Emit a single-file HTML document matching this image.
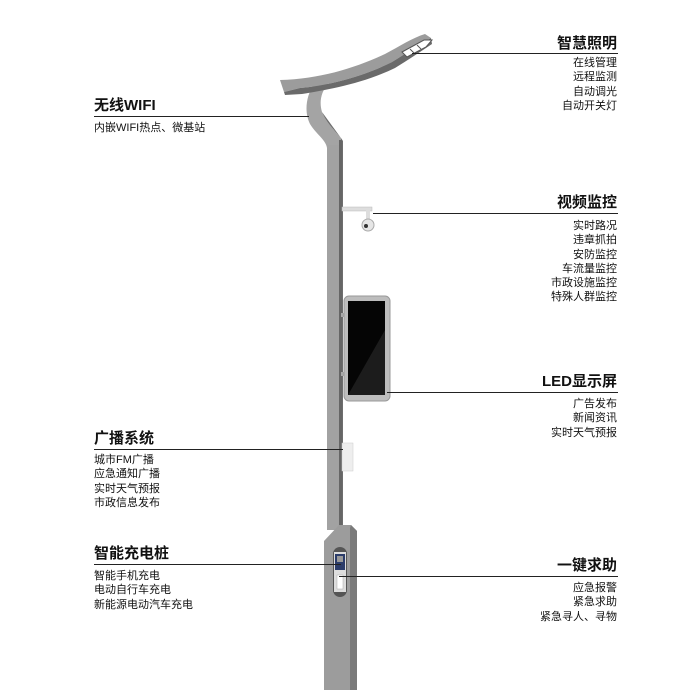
<!DOCTYPE html>
<html><head><meta charset="utf-8"><style>
body{margin:0;width:700px;height:700px;background:#fff;position:relative;overflow:hidden;font-family:"Liberation Sans","Noto Sans CJK SC",sans-serif;color:#111}
.t{position:absolute;font-weight:bold;font-size:15px;line-height:16px;white-space:nowrap}
.i{position:absolute;font-size:11px;line-height:14.3px;white-space:nowrap}
.r{right:83px;text-align:right}
.l{left:94px}
.ln{position:absolute;height:1px;background:#222}
</style></head><body>
<svg width="700" height="700" style="position:absolute;left:0;top:0">
<!-- arm -->
<path d="M314,84 C306,96 304,112 310,124 C316,134 326,140 327,148 L341,148 L341,138 C334,130 326,122 322,112 C319,102 321,92 328,84 Z" fill="#a4a4a4"/>
<path d="M322,112 C326,122 334,130 341,138 L343,141 L343,530 L341,530 L341,138" fill="#6e6e6e"/>
<rect x="327" y="145" width="14" height="385" fill="#a2a2a2"/>
<rect x="339" y="140" width="3" height="390" fill="#666"/>
<!-- lamp head -->
<path d="M280,80 C320,79 355,68 385,54 C400,46 412,38 425,34 L431,38 C418,45 405,54 392,62 C360,78 325,86 300,88 L284,92 Z" fill="#9c9c9c"/>
<path d="M284,92 L300,88 C325,86 360,78 392,62 C405,54 418,45 431,38 L432,44 C420,52 408,60 395,68 C362,84 326,90 302,94 L285,95 Z" fill="#6a6a6a"/>
<path d="M402,52 L424,40 L432,40 L426,47 L407,57 Z" fill="#fff" stroke="#555" stroke-width="1"/>
<line x1="410" y1="49" x2="414" y2="53" stroke="#555"/>
<line x1="417" y1="45" x2="421" y2="49" stroke="#555"/>
<!-- camera -->
<rect x="342" y="207" width="30" height="4" fill="#ddd" stroke="#bbb" stroke-width=".5"/>
<rect x="366" y="209" width="4" height="10" fill="#ddd"/>
<circle cx="368" cy="225" r="6" fill="#e6e6e6" stroke="#aaa"/>
<circle cx="366" cy="226" r="2" fill="#333"/>
<!-- LED panel -->
<rect x="341" y="313" width="5" height="4" fill="#aaa"/>
<rect x="341" y="372" width="5" height="4" fill="#aaa"/>
<rect x="344" y="296" width="46" height="105" rx="5" fill="#bdbdbd" stroke="#999"/>
<rect x="348" y="301" width="37" height="94" fill="#050505"/>
<path d="M348,395 L385,330 L385,395 Z" fill="#1c1c1c"/>
<!-- speaker -->
<rect x="342" y="443" width="11" height="28" fill="#eee" stroke="#ccc" stroke-width=".5"/>
<!-- base -->
<path d="M324,541 L339,525 L351,525 L357,531 L357,690 L324,690 Z" fill="#9c9c9c"/>
<path d="M351,525 L357,531 L357,690 L350,690 L350,528 Z" fill="#7a7a7a"/>
<rect x="333" y="547" width="14" height="50" rx="7" fill="#555"/>
<rect x="334" y="552" width="12" height="40" fill="#ddd"/>
<rect x="335" y="554" width="10" height="16" fill="#2b3c6a"/>
<rect x="337" y="556" width="6" height="6" fill="#999"/>
<rect x="337" y="575" width="6" height="14" fill="#fff" stroke="#aaa" stroke-width=".5"/>
</svg>
<div class="ln" style="left:412px;top:53px;width:206px"></div>
<div class="ln" style="left:94px;top:116px;width:215px"></div>
<div class="ln" style="left:373px;top:213px;width:245px"></div>
<div class="ln" style="left:387px;top:392px;width:231px"></div>
<div class="ln" style="left:94px;top:449px;width:249px"></div>
<div class="ln" style="left:94px;top:564px;width:247px"></div>
<div class="ln" style="left:339px;top:576px;width:279px"></div>

<div class="t r" style="top:36px">智慧照明</div>
<div class="i r" style="top:56px">在线管理<br>远程监测<br>自动调光<br>自动开关灯</div>
<div class="t l" style="top:98px">无线WIFI</div>
<div class="i l" style="top:121px">内嵌WIFI热点、微基站</div>
<div class="t r" style="top:195px">视频监控</div>
<div class="i r" style="top:219px">实时路况<br>违章抓拍<br>安防监控<br>车流量监控<br>市政设施监控<br>特殊人群监控</div>
<div class="t r" style="top:374px">LED显示屏</div>
<div class="i r" style="top:397px">广告发布<br>新闻资讯<br>实时天气预报</div>
<div class="t l" style="top:431px">广播系统</div>
<div class="i l" style="top:453px">城市FM广播<br>应急通知广播<br>实时天气预报<br>市政信息发布</div>
<div class="t l" style="top:546px">智能充电桩</div>
<div class="i l" style="top:569px">智能手机充电<br>电动自行车充电<br>新能源电动汽车充电</div>
<div class="t r" style="top:558px">一键求助</div>
<div class="i r" style="top:581px">应急报警<br>紧急求助<br>紧急寻人、寻物</div>
</body></html>
